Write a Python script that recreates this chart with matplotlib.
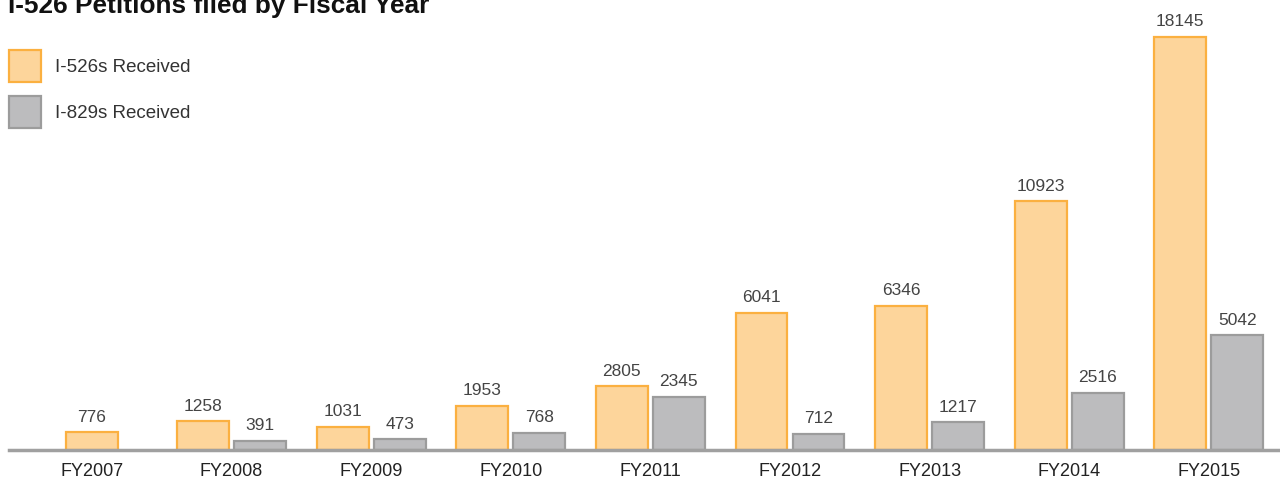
import numpy as np
import matplotlib
matplotlib.use('Agg')
import matplotlib.pyplot as plt

plt.rcParams['font.family'] = ['Liberation Sans', 'DejaVu Sans']

years = ['FY2007', 'FY2008', 'FY2009', 'FY2010', 'FY2011', 'FY2012', 'FY2013', 'FY2014', 'FY2015']
i526 = [776, 1258, 1031, 1953, 2805, 6041, 6346, 10923, 18145]
i829 = [None, 391, 473, 768, 2345, 712, 1217, 2516, 5042]

orange_fill = '#fdd59b'
orange_edge = '#fbb040'
gray_fill = '#bcbcbe'
gray_edge = '#9c9c9c'

fig = plt.figure(figsize=(12.8, 4.79), dpi=100)
ax = fig.add_axes([9 / 1280, 1 - 450 / 479, 1 - 9 / 1280, 450 / 479])

x = np.arange(len(years))
w = 0.372
off = 0.204

# orange bars: centred on the group when there is no I-829 value
ox = [xi - off if v is not None else xi for xi, v in zip(x, i829)]
b1 = ax.bar(ox, i526, width=w, color=orange_fill, edgecolor=orange_edge,
            linewidth=1.6, label='I-526s Received', zorder=2)

gx = [xi + off for xi, v in zip(x, i829) if v is not None]
gv = [v for v in i829 if v is not None]
b2 = ax.bar(gx, gv, width=w, color=gray_fill, edgecolor=gray_edge,
            linewidth=1.6, label='I-829s Received', zorder=2)

for bars, vals in ((b1, i526), (b2, gv)):
    for rect, v in zip(bars, vals):
        ax.annotate(str(v), (rect.get_x() + rect.get_width() / 2, rect.get_height()),
                    xytext=(0, 5.5), textcoords='offset points', ha='center', va='bottom',
                    fontsize=12.5, color='#444444')

ax.set_xlim(-0.5946, 8.51)
ax.set_ylim(0, 18145 * 450 / 413)
ax.set_xticks(x)
ax.set_xticklabels(years, fontsize=13, color='#222222')
ax.tick_params(axis='x', length=0, pad=9)
ax.set_yticks([])
for s in ['top', 'right', 'left']:
    ax.spines[s].set_visible(False)
ax.spines['bottom'].set_color('#a0a0a0')
ax.spines['bottom'].set_linewidth(2.5)
ax.spines['bottom'].set_zorder(3)
ax.patch.set_alpha(0)

# title sits partly above the top edge, as in the reference
fig.text(8 / 1280, 1 - 13 / 479, 'I-526 Petitions filed by Fiscal Year', fontsize=18.9,
         fontweight='bold', color='#111111', ha='left', va='baseline')

fig.legend(handles=[b1, b2], loc='upper left', bbox_to_anchor=(9 / 1280, 1 - 50 / 479),
           frameon=False, fontsize=13.5, handlelength=1.71, handleheight=2.25,
           handletextpad=0.75, labelspacing=0.75, borderpad=0, borderaxespad=0,
           labelcolor='#333333')

fig.savefig('out.png', dpi=100)
